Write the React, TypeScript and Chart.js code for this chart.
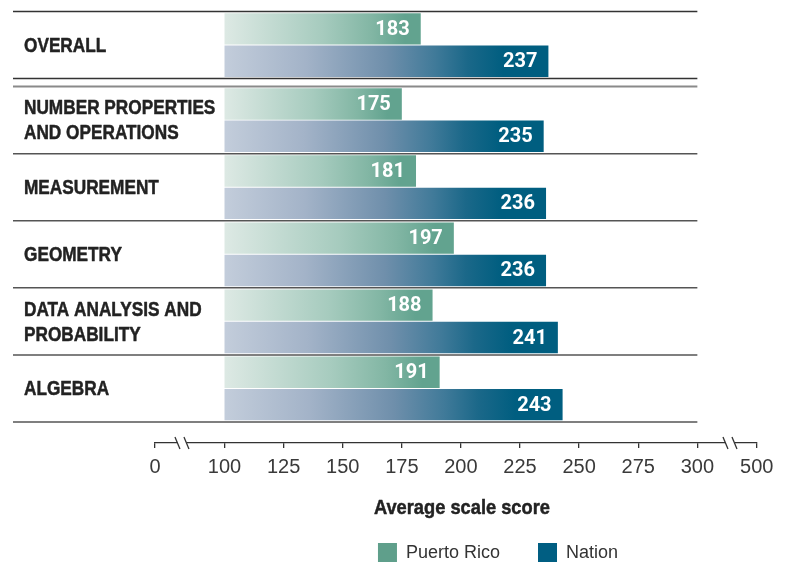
import React, { useEffect, useRef } from "react";
import { Chart, registerables } from "chart.js";

Chart.register(...registerables);

// ---- data ----
const CATEGORIES: string[][] = [
  ["OVERALL"],
  ["NUMBER PROPERTIES", "AND OPERATIONS"],
  ["MEASUREMENT"],
  ["GEOMETRY"],
  ["DATA ANALYSIS AND", "PROBABILITY"],
  ["ALGEBRA"],
];
const PUERTO_RICO = [183, 175, 181, 197, 188, 191];
const NATION = [237, 235, 236, 236, 241, 243];
const SERIES_NAMES = ["Puerto Rico", "Nation"];
const TICK_VALUES = [0, 100, 125, 150, 175, 200, 225, 250, 275, 300, 500];
const AXIS_TITLE = "Average scale score";
const BAR_BASE = 100;

// ---- broken-axis layout (scale units) ----
const SEG_LOW = 100;
const SEG_HIGH = 300;
const STUB_LOW = 70.6; // where "0" sits on the broken axis
const STUB_HIGH = 325.1; // where "500" sits on the broken axis
const BREAKS = [82, 313.8];
const axisPos = (v: number) => (v < SEG_LOW ? STUB_LOW : v > SEG_HIGH ? STUB_HIGH : v);
const GROUP_GAP = 8 / 67;
const slot = (i: number) => i + (i > 0 ? GROUP_GAP : 0);
const AXIS_GAP = 21 / 67;

// ---- styles ----
const PR_COLOR = "#5f9f8b";
const NATION_COLOR = "#005e82";
const PR_STOPS: [number, string][] = [
  [0, "#dde9e4"],
  [0.5, "#a6cbbe"],
  [0.75, "#82b6a4"],
  [0.92, "#62a38f"],
  [1, "#62a38f"],
];
const NATION_STOPS: [number, string][] = [
  [0, "#c3cddb"],
  [0.25, "#a3b3c8"],
  [0.5, "#6f8fab"],
  [0.65, "#407a99"],
  [0.75, "#1b6889"],
  [0.86, "#005e80"],
  [1, "#005e80"],
];
const SANS = "'Liberation Sans', Arial, sans-serif";
const VALUE_FONT = "bold 20px Roboto, 'Liberation Sans', sans-serif";

function condensed(ctx: CanvasRenderingContext2D, text: string, x: number, y: number, sx: number, heavy = 0) {
  ctx.save();
  ctx.translate(x, y);
  ctx.scale(sx, 1);
  if (heavy > 0) {
    ctx.lineWidth = heavy;
    ctx.strokeStyle = ctx.fillStyle as string;
    ctx.lineJoin = "round";
    ctx.strokeText(text, 0, 0);
  }
  ctx.fillText(text, 0, 0);
  ctx.restore();
}

function gradientFill(stops: [number, string][], fallback: string) {
  return (ctx: any) => {
    const chart = ctx.chart;
    const { chartArea, scales } = chart;
    if (!chartArea || ctx.type !== "data" || !ctx.raw) return fallback;
    const x0 = scales.x.getPixelForValue(ctx.raw.x[0]);
    const x1 = scales.x.getPixelForValue(ctx.raw.x[1]);
    if (!isFinite(x0) || !isFinite(x1) || x1 <= x0) return fallback;
    const g = chart.ctx.createLinearGradient(x0, 0, x1, 0);
    stops.forEach(([o, c]) => g.addColorStop(o, c));
    return g;
  };
}

const decorations = {
  id: "decorations",
  beforeDatasetsDraw(chart: any) {
    const { ctx, scales } = chart;
    const y = scales.y;
    const xEnd = scales.x.getPixelForValue(SEG_HIGH);
    const xStart = 5;
    const line = (v: number, color: string, w: number) => {
      const py = y.getPixelForValue(v);
      ctx.save();
      ctx.strokeStyle = color;
      ctx.lineWidth = w;
      ctx.beginPath();
      ctx.moveTo(xStart, py);
      ctx.lineTo(xEnd, py);
      ctx.stroke();
      ctx.restore();
    };
    line(slot(0) - 0.5, "#333", 1.5);
    line(slot(0) + 0.5, "#333", 1.5);
    line(slot(1) - 0.5, "#8a8a8a", 2);
    for (let i = 1; i < CATEGORIES.length; i++) line(slot(i) + 0.5, "#555", 1.5);
  },
  afterDatasetsDraw(chart: any) {
    const { ctx, scales } = chart;
    const y = scales.y;
    ctx.save();
    // category labels
    ctx.fillStyle = "#222222";
    ctx.font = `bold 21px ${SANS}`;
    ctx.textAlign = "left";
    ctx.textBaseline = "middle";
    CATEGORIES.forEach((lines, i) => {
      const cy = y.getPixelForValue(slot(i)) + 1;
      const lh = 25;
      lines.forEach((t, k) => {
        condensed(ctx, t, 16, cy + (k - (lines.length - 1) / 2) * lh, 0.82, 0.5);
      });
    });

    // value labels
    ctx.fillStyle = "#ffffff";
    ctx.font = VALUE_FONT;
    ctx.textAlign = "right";
    ctx.textBaseline = "middle";
    chart.data.datasets.forEach((ds: any, di: number) => {
      const meta = chart.getDatasetMeta(di);
      meta.data.forEach((el: any, i: number) => {
        const v = ds.data[i].x[1];
        ctx.fillText(String(v), el.x - 11, el.y + 1);
      });
    });
    ctx.restore();
  },
  afterDraw(chart: any) {
    const { ctx, chartArea, scales } = chart;
    const x = scales.x;
    const ya = chartArea.bottom;
    ctx.save();
    BREAKS.forEach((b) => {
      const px = x.getPixelForValue(b);
      ctx.fillStyle = "#ffffff";
      ctx.fillRect(px - 4.5, ya - 2, 9, 4);
      ctx.strokeStyle = "#333";
      ctx.lineWidth = 1.3;
      [-4.5, 4.5].forEach((off) => {
        ctx.beginPath();
        ctx.moveTo(px + off - 2.5, ya - 6);
        ctx.lineTo(px + off + 2.5, ya + 6);
        ctx.stroke();
      });
    });

    // axis title
    ctx.fillStyle = "#222222";
    ctx.font = `bold 21px ${SANS}`;
    ctx.textAlign = "center";
    ctx.textBaseline = "middle";
    condensed(ctx, AXIS_TITLE, x.getPixelForValue(200) + 1, ya + 65, 0.87, 0.5);

    // legend
    const colors = [PR_COLOR, NATION_COLOR];
    ctx.font = `18px ${SANS}`;
    const box = 19;
    const gapText = 9;
    const gapItem = 38;
    const widths = SERIES_NAMES.map((n) => box + gapText + ctx.measureText(n).width);
    const total = widths.reduce((a, b) => a + b, 0) + gapItem * (widths.length - 1);
    let lx = 490 - total / 2;
    const ly = ya + 100;
    ctx.textAlign = "left";
    SERIES_NAMES.forEach((n, i) => {
      ctx.fillStyle = colors[i];
      ctx.fillRect(lx, ly, box, box);
      ctx.fillStyle = "#333";
      ctx.fillText(n, lx + box + gapText, ly + box / 2 + 1);
      lx += widths[i] + gapItem;
    });
    ctx.restore();
  },
};

export default function App() {
  const ref = useRef<HTMLCanvasElement | null>(null);
  useEffect(() => {
    if (!ref.current) return;
    const chart = new Chart(ref.current, {
      type: "bar",
      data: {
        datasets: [
          {
            label: SERIES_NAMES[0],
            data: PUERTO_RICO.map((v, i) => ({ x: [BAR_BASE, v], y: slot(i) })) as any,
            backgroundColor: gradientFill(PR_STOPS, PR_COLOR) as any,
            borderWidth: 0,
            categoryPercentage: 0.965,
            barPercentage: 0.97,
          },
          {
            label: SERIES_NAMES[1],
            data: NATION.map((v, i) => ({ x: [BAR_BASE, v], y: slot(i) })) as any,
            backgroundColor: gradientFill(NATION_STOPS, NATION_COLOR) as any,
            borderWidth: 0,
            categoryPercentage: 0.965,
            barPercentage: 0.97,
          },
        ],
      },
      options: {
        indexAxis: "y",
        animation: false,
        responsive: true,
        maintainAspectRatio: false,
        layout: { padding: { left: 147, right: 26.3, top: 3.5, bottom: 0 } },
        plugins: { legend: { display: false }, tooltip: { enabled: false } },
        scales: {
          y: {
            type: "linear",
            reverse: true,
            display: false,
            offset: false,
            grace: 0,
            bounds: "data",
            min: -0.5,
            max: slot(CATEGORIES.length - 1) + 0.5 + AXIS_GAP,
            afterBuildTicks: (s: any) => {
              s.ticks = CATEGORIES.map((_, i) => ({ value: slot(i) }));
            },
          },
          x: {
            type: "linear",
            position: "bottom",
            min: STUB_LOW,
            max: STUB_HIGH,
            afterBuildTicks: (s: any) => {
              s.ticks = TICK_VALUES.map((v) => ({ value: axisPos(v) }));
            },
            afterFit: (s: any) => {
              s.height = 121;
            },
            border: { display: true, color: "#333", width: 1.3 },
            grid: {
              display: true,
              drawOnChartArea: false,
              drawTicks: true,
              tickLength: 5,
              color: "#333",
              lineWidth: 1.3,
            },
            ticks: {
              autoSkip: false,
              maxRotation: 0,
              padding: 7,
              color: "#3a3a3a",
              font: { family: SANS, size: 20 },
              callback: (_v: any, idx: number) => String(TICK_VALUES[idx]),
            },
          },
        },
      },
      plugins: [decorations],
    });
    return () => chart.destroy();
  }, []);
  return (
    <div style={{ width: 775, height: 556, position: "relative" }}>
      <canvas ref={ref} />
    </div>
  );
}
